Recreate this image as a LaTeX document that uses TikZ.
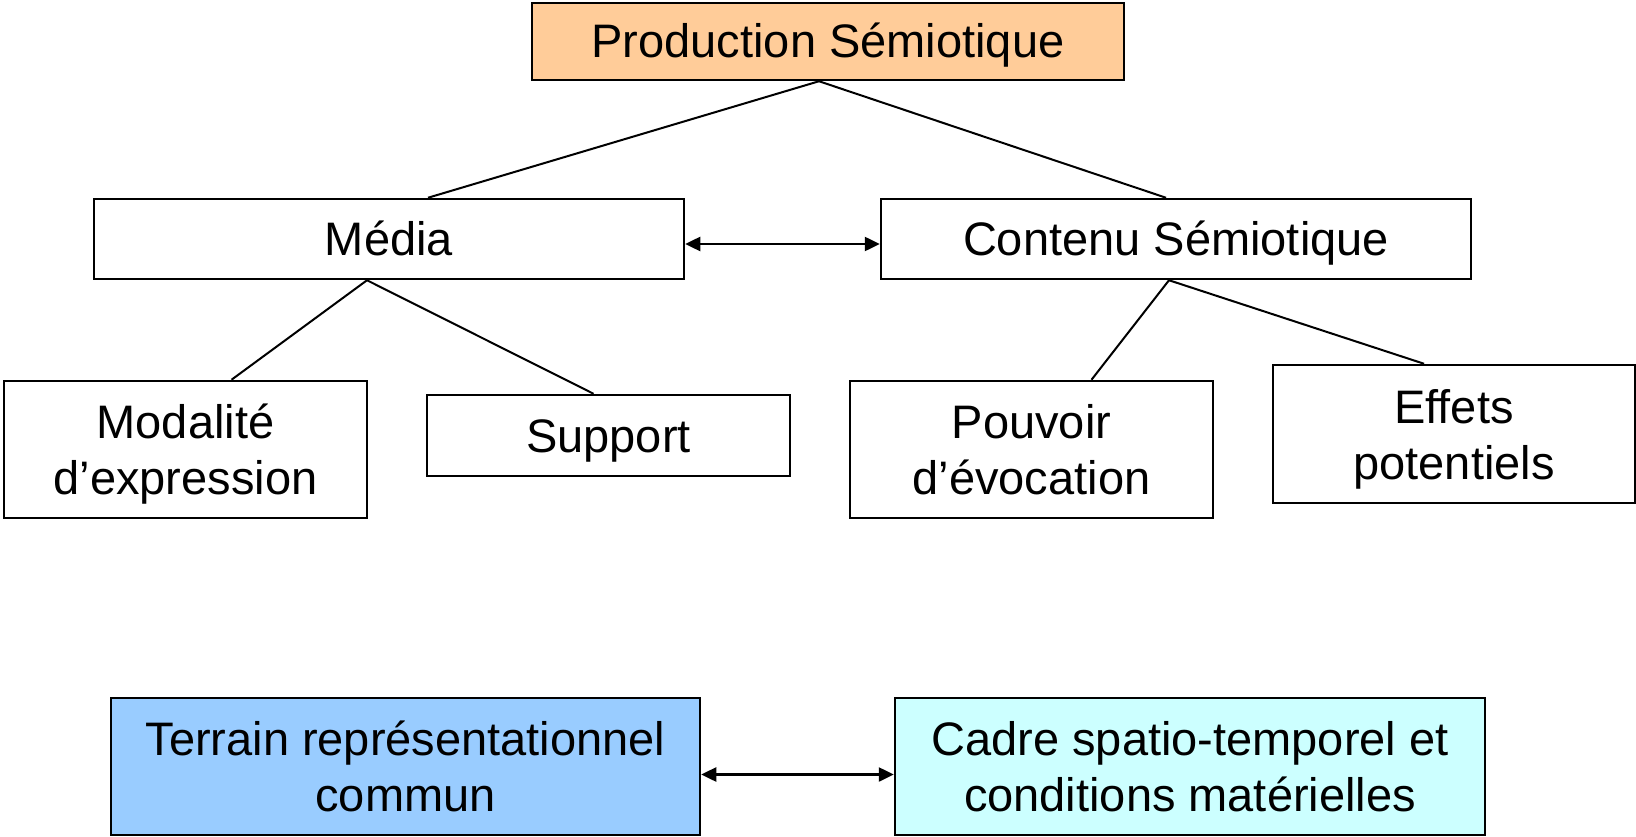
\documentclass[tikz,border=0pt]{standalone}
\usepackage{fontspec}
\setmainfont{Liberation Sans}
\usetikzlibrary{calc,arrows.meta}
\definecolor{peach}{HTML}{FFCC99}
\definecolor{skyb}{HTML}{99CCFF}
\definecolor{paleb}{HTML}{CCFFFF}
\begin{document}
\begin{tikzpicture}[x=1pt,y=1pt,
  box/.style={draw=black,line width=2.5pt,fill=white,inner sep=0pt,align=center,
    font=\fontsize{47}{56}\selectfont,text height=43pt,text depth=10pt},
  two/.style={text height=100pt,text depth=10pt},
  link/.style={line width=2pt},
  dbl/.style={line width=2.5pt,{Triangle[length=15pt,width=14pt]}-{Triangle[length=15pt,width=14pt]}}]
\useasboundingbox (0,0) rectangle (1636,-837);
\node[box,fill=peach,minimum width=592,minimum height=77] (prod) at (828,-41.5) {Production Sémiotique};
\node[box,minimum width=590,minimum height=80] (media) at (389,-239) {Média};
\node[box,minimum width=590,minimum height=80] (cont) at (1176,-239) {Contenu Sémiotique};
\node[box,two,minimum width=363,minimum height=137] (moda) at (185.5,-449.5) {Modalité\\d’expression};
\node[box,minimum width=363,minimum height=81] (supp) at (608.5,-435.5) {Support};
\node[box,two,minimum width=363,minimum height=137] (pouv) at (1031.5,-449.5) {Pouvoir\\d’évocation};
\node[box,two,minimum width=362,minimum height=138] (eff) at (1454,-434) {Effets\\potentiels};
\node[box,two,fill=skyb,minimum width=589,minimum height=137] (terr) at (405.5,-766.5) {Terrain représentationnel\\commun};
\node[box,two,fill=paleb,minimum width=590,minimum height=137] (cadre) at (1190,-766.5) {Cadre spatio-temporel et\\conditions matérielles};
\draw[link] ($(prod.south)+(-9,0)$) -- ($(media.north)+(39,0)$);
\draw[link] ($(prod.south)+(-9,0)$) -- ($(cont.north)+(-10,0)$);
\draw[link] ($(media.south)+(-22,0)$) -- ($(moda.north)+(46,0)$);
\draw[link] ($(media.south)+(-22,0)$) -- ($(supp.north)+(-15,0)$);
\draw[link] ($(cont.south)+(-7,0)$) -- ($(pouv.north)+(60,0)$);
\draw[link] ($(cont.south)+(-7,0)$) -- ($(eff.north)+(-30,0)$);
\draw[dbl] ($(media.east)+(0,-5)$) -- ($(cont.west)+(0,-5)$);
\draw[dbl] ($(terr.east)+(0,-8)$) -- ($(cadre.west)+(0,-8)$);
\end{tikzpicture}
\end{document}
